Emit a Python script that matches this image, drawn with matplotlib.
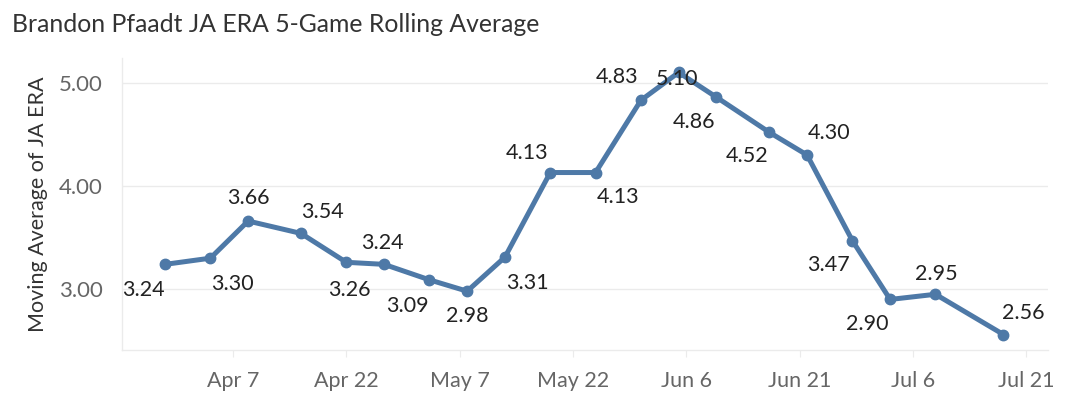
import datetime as dt

import matplotlib
matplotlib.use("Agg")
import matplotlib.pyplot as plt

# data (2024 season)
game_dates = ["2024-03-29", "2024-04-04", "2024-04-09", "2024-04-16", "2024-04-22",
              "2024-04-27", "2024-05-03", "2024-05-08", "2024-05-13", "2024-05-19",
              "2024-05-25", "2024-05-31", "2024-06-05", "2024-06-10", "2024-06-17",
              "2024-06-22", "2024-06-28", "2024-07-03", "2024-07-09", "2024-07-18"]
ja_era = [3.24, 3.30, 3.66, 3.54, 3.26, 3.24, 3.09, 2.98, 3.31, 4.13,
          4.13, 4.83, 5.10, 4.86, 4.52, 4.30, 3.47, 2.90, 2.95, 2.56]
tick_dates = ["2024-04-07", "2024-04-22", "2024-05-07", "2024-05-22",
              "2024-06-06", "2024-06-21", "2024-07-06", "2024-07-21"]
y_ticks = [3.0, 4.0, 5.0]

# label placement (pixels, +y is down) - tableau style alternating labels
label_offsets = [(-22, 26), (22, 26), (0, -23), (21, -21), (3, 28),
                 (-2, -21), (-22, 26), (0, 25), (22, 26), (-23, -20),
                 (22, 24), (-24, -23), (-2, 7), (-22, 25), (-22, 24),
                 (22, -22), (-24, 24), (-23, 25), (1, -20), (20, -22)]

FONT = ["Lato", "DejaVu Sans"]
BLUE = "#4e79a7"
GRID = "#ebebeb"

dates = [dt.datetime.strptime(d, "%Y-%m-%d") for d in game_dates]
ticks = [dt.datetime.strptime(d, "%Y-%m-%d") for d in tick_dates]

fig = plt.figure(figsize=(10.72, 4.16), dpi=100)
ax = fig.add_axes([122 / 1072, 1 - 350 / 416, (1048 - 122) / 1072, (350 - 58) / 416])

ax.plot(dates, ja_era, color=BLUE, lw=3.6, marker="o", ms=7.5,
        solid_capstyle="round", solid_joinstyle="round", zorder=3)

for d, v, (dx, dy) in zip(dates, ja_era, label_offsets):
    ax.annotate(f"{v:.2f}", (d, v), xytext=(dx, -dy), textcoords="offset pixels",
                ha="center", va="center", fontsize=15.5, color="#222222",
                family=FONT, zorder=4)

ax.set_xlim(ticks[0] - dt.timedelta(days=14.7), ticks[-1] + dt.timedelta(days=2.9))
ax.set_ylim(2.41, 5.24)

ax.set_xticks(ticks)
ax.set_xticklabels([f"{t:%b} {t.day}" for t in ticks])
ax.set_yticks(y_ticks)
ax.set_yticklabels([f"{v:.2f}" for v in y_ticks])

ax.tick_params(axis="x", length=5, width=0.8, color=GRID, labelsize=15.5,
               labelcolor="#666666", pad=10)
ax.tick_params(axis="y", length=0, labelsize=16, labelcolor="#666666", pad=14)
for lab in ax.get_xticklabels() + ax.get_yticklabels():
    lab.set_family(FONT)

ax.grid(axis="y", color=GRID, lw=1.0, zorder=0)
for side in ["top", "right"]:
    ax.spines[side].set_visible(False)
ax.spines["bottom"].set_color(GRID)
ax.spines["left"].set_color(GRID)
ax.spines["bottom"].set_linewidth(1.0)
ax.spines["left"].set_linewidth(1.0)

ax.set_ylabel("Moving Average of JA ERA", fontsize=15.5, color="#333333",
              family=FONT, labelpad=8)
fig.text(12 / 1072, 1 - 24 / 416, "Brandon Pfaadt JA ERA 5-Game Rolling Average",
         fontsize=17.8, color="#333333", family=FONT, va="center", ha="left")

fig.savefig("out.png", dpi=100)
